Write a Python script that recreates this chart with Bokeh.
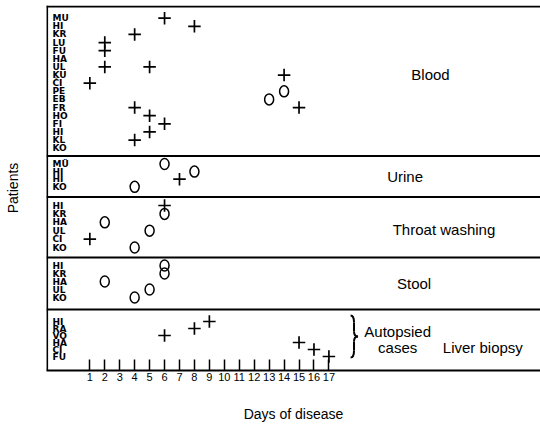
from bokeh.plotting import figure
from bokeh.models import Range1d, FixedTicker, Span
from bokeh.core.properties import value
from bokeh.embed import file_html
from bokeh.resources import INLINE

# ---------------- data ----------------
days = list(range(1, 18))

blood_patients = ["MU", "HI", "KR", "LU", "FU", "HA", "UL", "KU", "ČI",
                  "PE", "EB", "FR", "HO", "FI", "HI", "KL", "KO"]
blood_row = [0, 1, 2, 3, 4, 6, 6, 8, 11, 12, 13, 14, 15, 7, 9, 10, 11]
blood_day = [6, 8, 4, 2, 2, 2, 5, 1, 4, 5, 6, 5, 4, 14, 14, 13, 15]
blood_sym = ["+", "+", "+", "+", "+", "+", "+", "+", "+", "+", "+", "+", "+",
             "+", "o", "o", "+"]

urine_patients = ["MÜ", "HI", "HI", "KO"]
urine_row = [0, 1, 2, 3]
urine_day = [6, 8, 7, 4]
urine_sym = ["o", "o", "+", "o"]

throat_patients = ["HI", "KR", "HA", "UL", "ČI", "KO"]
throat_row = [0, 1, 2, 3, 4, 5]
throat_day = [6, 6, 2, 5, 1, 4]
throat_sym = ["+", "o", "o", "o", "+", "o"]

stool_patients = ["HI", "KR", "HA", "UL", "KO"]
stool_row = [0, 1, 2, 3, 4]
stool_day = [6, 6, 2, 5, 4]
stool_sym = ["o", "o", "o", "o", "o"]

liver_patients = ["HI", "RA", "VO", "HA", "CI", "FU"]
liver_row = [0, 1, 2, 3, 4, 5]
liver_day = [9, 8, 6, 15, 16, 17]
liver_sym = ["+", "+", "+", "+", "+", "+"]

panel_names = ["Blood", "Urine", "Throat washing", "Stool", "Liver biopsy"]

# ---------------- layout (vertical layout units) ----------------
panel_bounds = [6, 155.5, 196.5, 257, 309]
row_first = [17.7, 163.5, 205, 265, 321]
row_step = [8.125, 7.6, 8.4, 8.0, 7.0]
label_pos = [(23.8, 74), (22.1, 176), (24.7, 229), (22.7, 283), (27.3, 347)]

panels = [
    (blood_patients, blood_row, blood_day, blood_sym),
    (urine_patients, urine_row, urine_day, urine_sym),
    (throat_patients, throat_row, throat_day, throat_sym),
    (stool_patients, stool_row, stool_day, stool_sym),
    (liver_patients, liver_row, liver_day, liver_sym),
]

X0, X1 = -1.9, 31.16

p = figure(width=540, height=426, output_backend="svg", toolbar_location=None,
           x_range=Range1d(X0, X1), y_range=Range1d(370, 5),
           min_border_left=46, min_border_right=0, min_border_top=5,
           min_border_bottom=56)
p.outline_line_color = None
p.grid.visible = False
p.background_fill_color = "white"
p.border_fill_color = "white"

FONT = value("Liberation Sans")

lab_x, lab_y, lab_t = [], [], []
cx, cy, ox, oy = [], [], [], []
for k, (pts, rows, dd, ss) in enumerate(panels):
    for i, name in enumerate(pts):
        lab_x.append(X0)
        lab_y.append(row_first[k] + i * row_step[k])
        lab_t.append(name)
    for r, d, s in zip(rows, dd, ss):
        y = row_first[k] + r * row_step[k]
        if s == "+":
            cx.append(d); cy.append(y)
        else:
            ox.append(d); oy.append(y)

p.text(x=lab_x, y=lab_y, text=lab_t, x_offset=6, text_font=value("DejaVu Sans"),
       text_font_size="9px", text_font_style="bold", text_baseline="middle",
       text_align="left", text_color="black")

p.scatter(x=cx, y=cy, marker="cross", size=12.5, line_width=1.7, line_color="black")
p.ellipse(x=ox, y=oy, width=9, height=11, width_units="screen",
          height_units="screen", fill_color=None, line_color="black", line_width=1.5)

# panel titles
p.text(x=[lp[0] for lp in label_pos], y=[lp[1] for lp in label_pos],
       text=panel_names, text_font=FONT, text_font_size="15px",
       text_baseline="middle", text_align="center", text_color="black")
p.text(x=[21.6, 21.6], y=[331, 347], text=["Autopsied", "cases"], text_font=FONT,
       text_font_size="15px", text_baseline="middle", text_align="center",
       text_color="black")

# curly brace grouping the autopsied cases
bx_l, bx_s, bx_p = 18.45, 18.68, 18.95
p.quadratic(x0=[bx_l, bx_s, bx_p, bx_s], y0=[315, 331, 336, 350],
            x1=[bx_s, bx_p, bx_s, bx_l], y1=[322, 336, 341, 357],
            cx=[bx_s, bx_s, bx_s, bx_s], cy=[315, 336, 336, 357],
            line_color="black", line_width=2)
p.segment(x0=[bx_s, bx_s], y0=[322, 341], x1=[bx_s, bx_s], y1=[331, 350],
          line_color="black", line_width=2)

for b in panel_bounds:
    p.add_layout(Span(location=b, dimension="width", line_color="black", line_width=2))
p.add_layout(Span(location=X0 + 0.04, dimension="height", line_color="black", line_width=2))

xa = p.xaxis[0]
xa.ticker = FixedTicker(ticks=days)
xa.major_tick_in = 11
xa.major_tick_out = 0
xa.major_tick_line_width = 1.5
xa.major_tick_line_color = "black"
xa.minor_tick_line_color = None
xa.axis_line_width = 2
xa.axis_line_color = "black"
xa.major_label_text_font = "Liberation Sans"
xa.major_label_text_font_size = "11px"
xa.major_label_standoff = 2
xa.major_label_text_color = "black"
xa.axis_label = "Days of disease"
xa.axis_label_text_font = "Liberation Sans"
xa.axis_label_text_font_size = "14px"
xa.axis_label_text_font_style = "normal"
xa.axis_label_text_color = "black"
xa.axis_label_standoff = 22

ya = p.yaxis[0]
ya.ticker = FixedTicker(ticks=[])
ya.axis_line_color = None
ya.major_tick_in = 0
ya.major_tick_out = 0
ya.minor_tick_line_color = None
ya.major_label_text_font_size = "0px"
ya.major_label_standoff = 0
ya.axis_label = "Patients"
ya.axis_label_text_font = "Liberation Sans"
ya.axis_label_text_font_size = "14px"
ya.axis_label_text_font_style = "normal"
ya.axis_label_text_color = "black"
ya.axis_label_standoff = 26

open("out.html", "w").write(file_html(p, INLINE))
